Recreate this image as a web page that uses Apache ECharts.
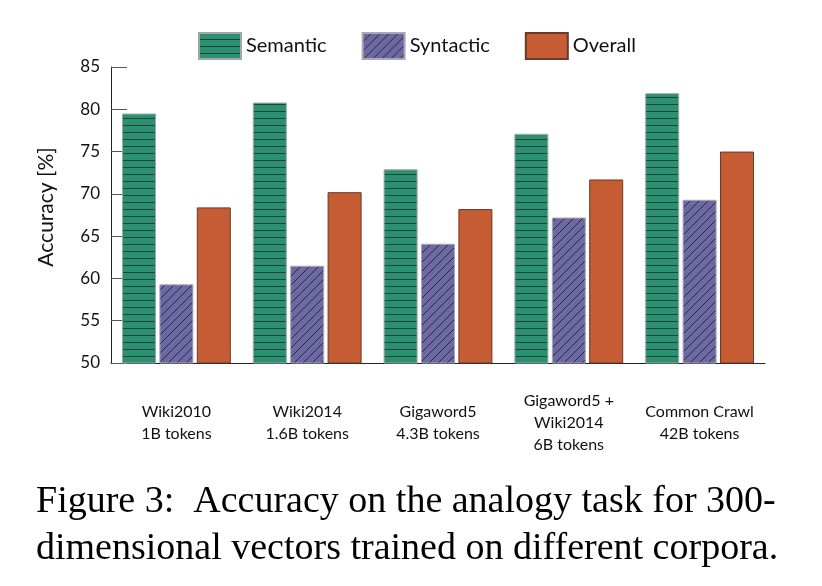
<!DOCTYPE html>
<html>
<head>
<meta charset="utf-8">
<script src="https://cdn.jsdelivr.net/npm/echarts@6/dist/echarts.min.js"></script>
<style>
html,body{margin:0;padding:0;background:#fff;}
#chart{width:822px;height:586px;}
</style>
</head>
<body>
<div id="chart"></div>
<script>
var categories = ['Wiki2010\n1B tokens', 'Wiki2014\n1.6B tokens', 'Gigaword5\n4.3B tokens', 'Gigaword5 +\nWiki2014\n6B tokens', 'Common Crawl\n42B tokens'];
var semantic = [79.5, 80.8, 72.9, 77.1, 81.9];
var syntactic = [59.3, 61.5, 64.1, 67.2, 69.3];
var overall = [68.4, 70.2, 68.2, 71.7, 75.0];
var yTicks = [50, 55, 60, 65, 70, 75, 80, 85];
var captionLines = ['Figure 3:  Accuracy on the analogy task for 300-', 'dimensional vectors trained on different corpora.'];

function hPattern() {
  var c = document.createElement('canvas');
  c.width = 8; c.height = 7;
  var g = c.getContext('2d');
  g.fillStyle = '#2a9070'; g.fillRect(0, 0, 8, 7);
  g.fillStyle = '#1e4538'; g.fillRect(0, 6, 8, 1);
  return c;
}
function dPattern() {
  var c = document.createElement('canvas');
  c.width = 9; c.height = 9;
  var g = c.getContext('2d');
  g.fillStyle = '#6c69a2'; g.fillRect(0, 0, 9, 9);
  g.strokeStyle = '#2a2845'; g.lineWidth = 1;
  g.beginPath();
  g.moveTo(0, 9); g.lineTo(9, 0);
  g.moveTo(-2, 2); g.lineTo(2, -2);
  g.moveTo(7, 11); g.lineTo(11, 7);
  g.stroke();
  return c;
}

var chart = echarts.init(document.getElementById('chart'));
var font = 'Lato, "Open Sans", sans-serif';
var option = {
  animation: false,
  backgroundColor: '#fff',
  legend: {
    left: 193, top: 27,
    icon: 'rect',
    itemWidth: 42, itemHeight: 26, itemGap: 35,
    textStyle: { fontFamily: font, fontSize: 20, color: '#111' },
    data: ['Semantic', 'Syntactic', 'Overall']
  },
  grid: { left: 111, right: 57, top: 67, bottom: 223 },
  xAxis: {
    type: 'category',
    data: categories,
    axisLine: { lineStyle: { color: '#222', width: 1 } },
    axisTick: { inside: true, length: 7, lineStyle: { color: '#666' } },
    axisLabel: { interval: 0, fontFamily: font, fontSize: 16, color: '#111', margin: 60, verticalAlign: 'middle', lineHeight: 22 }
  },
  yAxis: {
    type: 'value',
    min: 50, max: 85, interval: 5,
    name: 'Accuracy [%]',
    nameLocation: 'middle', nameGap: 54, nameRotate: 90,
    nameTextStyle: { fontFamily: font, fontSize: 21, color: '#111', padding: [0, 0, 0, 16] },
    axisLine: { show: true, lineStyle: { color: '#222', width: 1 } },
    axisTick: { show: true, inside: true, length: 16, lineStyle: { color: '#555' } },
    splitLine: { show: false },
    axisLabel: {
      fontFamily: font, fontSize: 17, color: '#111', margin: 11,
      formatter: function (v) { return yTicks.indexOf(v) >= 0 ? String(v) : ''; }
    }
  },
  series: [
    { name: 'Semantic', type: 'bar', data: semantic, barWidth: 34, barGap: '10%',
      itemStyle: { color: { image: hPattern(), repeat: 'repeat' }, borderColor: '#a0a8a4', borderWidth: 1 } },
    { name: 'Syntactic', type: 'bar', data: syntactic, barWidth: 34,
      itemStyle: { color: { image: dPattern(), repeat: 'repeat' }, borderColor: '#a8a8b8', borderWidth: 1 } },
    { name: 'Overall', type: 'bar', data: overall, barWidth: 34,
      itemStyle: { color: '#c55c33', borderColor: '#6b3a28', borderWidth: 1 } }
  ],
  graphic: [
    { type: 'text', left: 36, top: 483, style: { text: captionLines[0], font: '38px "Liberation Serif", "Times New Roman", serif', fill: '#000' } },
    { type: 'text', left: 36, top: 530, style: { text: captionLines[1], font: '38px "Liberation Serif", "Times New Roman", serif', fill: '#000' } }
  ]
};
chart.setOption(option);
</script>
</body>
</html>
